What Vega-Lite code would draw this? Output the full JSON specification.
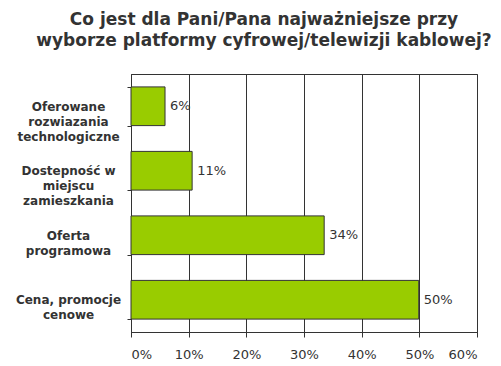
{
  "$schema": "https://vega.github.io/schema/vega-lite/v6.json",
  "width": 346,
  "height": 258,
  "autosize": "none",
  "padding": {"left": 131, "top": 74, "right": 24, "bottom": 34},
  "background": "white",
  "title": {
    "text": ["Co jest dla Pani/Pana najważniejsze przy", "wyborze platformy cyfrowej/telewizji kablowej?"],
    "font": "DejaVu Sans",
    "fontSize": 17,
    "fontWeight": "bold",
    "color": "#333333",
    "anchor": "middle",
    "dx": -40,
    "offset": 18,
    "lineHeight": 21
  },
  "config": {
    "view": {"stroke": "#333333", "strokeWidth": 1}
  },
  "data": {
    "values": [
      {"kat": "Oferowane|rozwiazania|technologiczne", "val": 5.9, "lab": "6%", "ord": 1},
      {"kat": "Dostepność w|miejscu|zamieszkania", "val": 10.6, "lab": "11%", "ord": 2},
      {"kat": "Oferta|programowa", "val": 33.5, "lab": "34%", "ord": 3},
      {"kat": "Cena, promocje|cenowe", "val": 49.9, "lab": "50%", "ord": 4}
    ]
  },
  "encoding": {
    "y": {
      "field": "kat",
      "type": "nominal",
      "sort": {"field": "ord"},
      "scale": {"paddingInner": 0.4, "paddingOuter": 0.2},
      "axis": {
        "title": null,
        "labelExpr": "split(datum.label, '|')",
        "labelFont": "DejaVu Sans",
        "labelFontWeight": "bold",
        "labelFontSize": 12,
        "labelColor": "#333333",
        "labelAlign": "center",
        "labelBaseline": "middle",
        "labelLineHeight": 15,
        "labelPadding": 59,
        "tickBand": "extent",
        "tickSize": 4,
        "tickColor": "#333333",
        "domainColor": "#333333",
        "labelLimit": 200
      }
    }
  },
  "layer": [
    {
      "mark": {"type": "bar", "color": "#99cc00", "stroke": "#333333", "strokeWidth": 1},
      "encoding": {
        "x": {
          "field": "val",
          "type": "quantitative",
          "scale": {"domain": [0, 60]},
          "axis": {
            "title": null,
            "values": [0, 10, 20, 30, 40, 50, 60],
            "labelExpr": "datum.value + '%'",
            "labelFont": "DejaVu Sans",
            "labelFontSize": 13,
            "labelColor": "#333333",
            "labelPadding": 11,
            "tickSize": 5,
            "tickColor": "#333333",
            "domainColor": "#333333",
            "grid": true,
            "gridColor": "#333333",
            "gridOpacity": 1
          }
        }
      }
    },
    {
      "mark": {"type": "text", "align": "left", "dx": 5, "font": "DejaVu Sans", "fontSize": 13, "color": "#333333"},
      "encoding": {
        "x": {"field": "val", "type": "quantitative"},
        "text": {"field": "lab"}
      }
    }
  ]
}
